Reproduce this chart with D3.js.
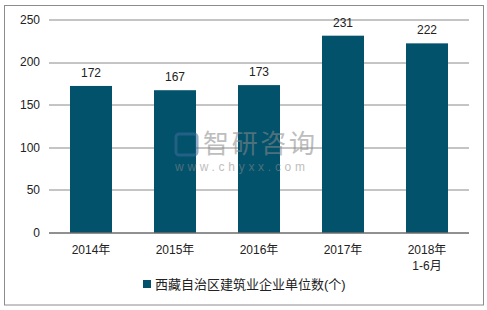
<!DOCTYPE html>
<html>
<head>
<meta charset="utf-8">
<script src="https://cdn.jsdelivr.net/npm/d3@7"></script>
<style>
  body { margin: 0; background: #fff; }
  text { font-family: "Liberation Sans", Arial, "Noto Sans CJK SC", sans-serif; fill: #222; }
</style>
</head>
<body>
<div id="chart"></div>
<script>
"use strict"
// Data
var categories = ["2014年", "2015年", "2016年", "2017年", "2018年\n1-6月"];
var values = [172, 167, 173, 231, 222];
var yTicks = [0, 50, 100, 150, 200, 250];
var seriesName = "西藏自治区建筑业企业单位数(个)";

var width = 487, height = 310;
var margin = { top: 19.5, right: 18, bottom: 77.5, left: 49 };
var drawWidth = width - margin.left - margin.right;
var drawHeight = height - margin.top - margin.bottom;
var color = "#02526b";

var svg = d3.select("#chart").append("svg")
    .attr("width", width)
    .attr("height", height);

// outer frame
svg.append("rect")
    .attr("x", 4.5).attr("y", 5.5)
    .attr("width", 479).attr("height", 299.5)
    .attr("fill", "none")
    .attr("stroke", "#8c8c8c")
    .attr("stroke-width", 1);

var g = svg.append("g")
    .attr("transform", "translate(" + margin.left + "," + margin.top + ")");

var xScale = d3.scaleBand().domain(categories).range([0, drawWidth]).paddingInner(0.5).paddingOuter(0.25);
var yScale = d3.scaleLinear().domain([0, 250]).range([drawHeight, 0]);

// gridlines
g.selectAll(".grid")
    .data(yTicks.filter(function (d) { return d > 0; }))
    .enter().append("line")
    .attr("class", "grid")
    .attr("x1", 0).attr("x2", drawWidth)
    .attr("y1", function (d) { return Math.round(yScale(d)) + 0.5; })
    .attr("y2", function (d) { return Math.round(yScale(d)) + 0.5; })
    .attr("stroke", "#8a8a8a")
    .attr("stroke-width", 1);

// bars
g.selectAll(".bar")
    .data(values)
    .enter().append("rect")
    .attr("class", "bar")
    .attr("x", function (d, i) { return xScale(categories[i]); })
    .attr("y", function (d) { return yScale(d); })
    .attr("width", xScale.bandwidth())
    .attr("height", function (d) { return drawHeight - yScale(d); })
    .attr("fill", color);

// watermark (drawn over bars, semi transparent)
var wm = svg.append("g").attr("opacity", 0.55);
wm.append("rect")
    .attr("x", 176).attr("y", 134).attr("width", 21).attr("height", 21)
    .attr("rx", 3)
    .attr("fill", "none").attr("stroke", "#3d6e9a").attr("stroke-width", 3);
wm.append("text")
    .attr("x", 203).attr("y", 153)
    .attr("textLength", 112)
    .style("font-size", "26px")
    .style("font-family", "Noto Sans CJK SC")
    .style("fill", "#8a8a8a")
    .text("智研咨询");
wm.append("text")
    .attr("x", 175).attr("y", 171)
    .attr("textLength", 130)
    .style("font-size", "12px")
    .style("fill", "#8a8a8a")
    .text("www.chyxx.com");

// value labels
g.selectAll(".label")
    .data(values)
    .enter().append("text")
    .attr("class", "label")
    .attr("x", function (d, i) { return xScale(categories[i]) + xScale.bandwidth() / 2; })
    .attr("y", function (d) { return yScale(d) - 9; })
    .attr("text-anchor", "middle")
    .style("font-size", "12px")
    .text(function (d) { return d; });

// y axis
var yAxis = d3.axisLeft(yScale).tickValues(yTicks).tickSize(0).tickPadding(9);
var yg = g.append("g").call(yAxis);
yg.select(".domain").remove();
yg.selectAll("text").style("font-size", "12px").style("fill", "#222");

// x axis
var xAxis = d3.axisBottom(xScale).tickSize(0).tickPadding(0);
var xg = g.append("g")
    .attr("transform", "translate(0," + drawHeight + ")")
    .call(xAxis);
xg.select(".domain")
    .attr("d", "M0,0.5H" + drawWidth)
    .attr("stroke", "#222");
xg.selectAll(".tick text").each(function (d) {
    var t = d3.select(this);
    var lines = d.split("\n");
    t.text(null).attr("y", 0).attr("dy", null);
    lines.forEach(function (l, i) {
        t.append("tspan")
            .attr("x", 0)
            .attr("y", 21 + i * 16)
            .text(l);
    });
}).style("font-size", "12px").style("fill", "#222");

// legend
var lg = svg.append("g").attr("transform", "translate(143,280)");
lg.append("rect").attr("width", 8).attr("height", 8).attr("fill", color);
lg.append("text")
    .attr("x", 12).attr("y", 8.5)
    .style("font-size", "13px")
    .text(seriesName);
</script>
</body>
</html>
